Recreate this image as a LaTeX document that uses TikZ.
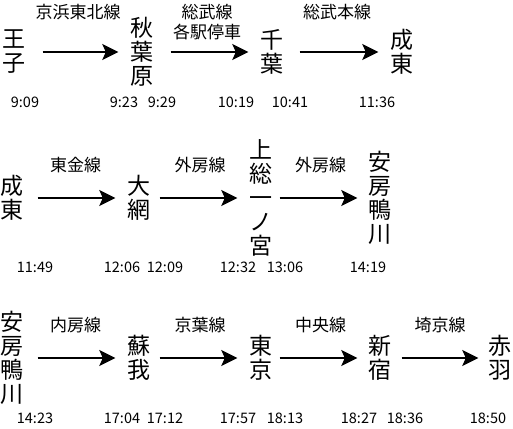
\documentclass[tikz,border=0pt]{standalone}
\usepackage{fontspec}
\setmainfont{Noto Sans CJK JP}
\usetikzlibrary{arrows.meta}

\begin{document}
\begin{tikzpicture}[
  x=1pt, y=-1pt,
  stn/.style={inner sep=0pt, align=center, font=\fontsize{23pt}{24pt}\selectfont},
  lbl/.style={inner sep=0pt, align=center, font=\fontsize{17pt}{20pt}\selectfont},
  tm/.style={inner sep=0pt, font=\fontsize{14.5pt}{15pt}\selectfont},
  flow/.style={-{Stealth[length=16pt, width=16pt, inset=3.5pt]}, line width=2.2pt, shorten >=12pt, shorten <=10pt},
  toplbl/.style={lbl, anchor=north, yshift=49pt},
  rowlbl/.style={lbl, anchor=south, yshift=24pt}
]
\useasboundingbox (0,0) rectangle (513,428);

% row 1
\node[stn] (oji) at (14,52) {王\\子};
\node[stn] (akihabara) at (142,52) {秋\\葉\\原};
\node[stn] (chiba) at (272,52) {千\\葉};
\node[stn] (narutoA) at (402,52) {成\\東};

\draw[flow, shorten <=17pt] (oji) -- node[toplbl] {京浜東北線} (akihabara);
\draw[flow, shorten <=17pt] (akihabara) -- node[toplbl] {総武線\\各駅停車} (chiba);
\draw[flow, shorten <=16pt] (chiba) -- node[toplbl] {総武本線} (narutoA);

\node[tm] (t09) at (25,102) {9:09};
\node[tm] (t23) at (124,102) {9:23};
\node[tm] (t29) at (162,102) {9:29};
\node[tm] (t1019) at (236,102) {10:19};
\node[tm] (t1041) at (290,102) {10:41};
\node[tm] (t1136) at (377,102) {11:36};

% row 2
\node[stn] (narutoB) at (12,198) {成\\東};
\node[stn] (oami) at (139,198) {大\\網};
\node[stn] (ichinomiya) at (261,198) {上\\総\\一\\ノ\\宮};
\node[stn] (kamogawaA) at (380,198) {安\\房\\鴨\\川};

\draw[flow, shorten <=14pt] (narutoB) -- node[rowlbl] {東金線} (oami);
\draw[flow, shorten <=9pt] (oami) -- node[rowlbl] {外房線} (ichinomiya);
\draw[flow, shorten <=7pt, shorten >=11pt] (ichinomiya) -- node[rowlbl] {外房線} (kamogawaA);

\node[tm] (t1149) at (35,267) {11:49};
\node[tm] (t1206) at (122,267) {12:06};
\node[tm] (t1209) at (165,267) {12:09};
\node[tm] (t1232) at (238,267) {12:32};
\node[tm] (t1306) at (285,267) {13:06};
\node[tm] (t1419) at (368,267) {14:19};

% row 3
\node[stn] (kamogawaB) at (12,358) {安\\房\\鴨\\川};
\node[stn] (soga) at (139,358) {蘇\\我};
\node[stn] (tokyo) at (261,358) {東\\京};
\node[stn] (shinjuku) at (380,358) {新\\宿};
\node[stn] (akabane) at (500,358) {赤\\羽};

\draw[flow, shorten <=14pt] (kamogawaB) -- node[rowlbl] {内房線} (soga);
\draw[flow, shorten <=9pt] (soga) -- node[rowlbl] {京葉線} (tokyo);
\draw[flow, shorten <=7pt, shorten >=11pt] (tokyo) -- node[rowlbl] {中央線} (shinjuku);
\draw[flow, shorten >=10pt] (shinjuku) -- node[rowlbl] {埼京線} (akabane);

\node[tm] (t1423) at (35,418) {14:23};
\node[tm] (t1704) at (122,418) {17:04};
\node[tm] (t1712) at (165,418) {17:12};
\node[tm] (t1757) at (238,418) {17:57};
\node[tm] (t1813) at (285,418) {18:13};
\node[tm] (t1827) at (359,418) {18:27};
\node[tm] (t1836) at (405,418) {18:36};
\node[tm] (t1850) at (488,418) {18:50};
\end{tikzpicture}
\end{document}
